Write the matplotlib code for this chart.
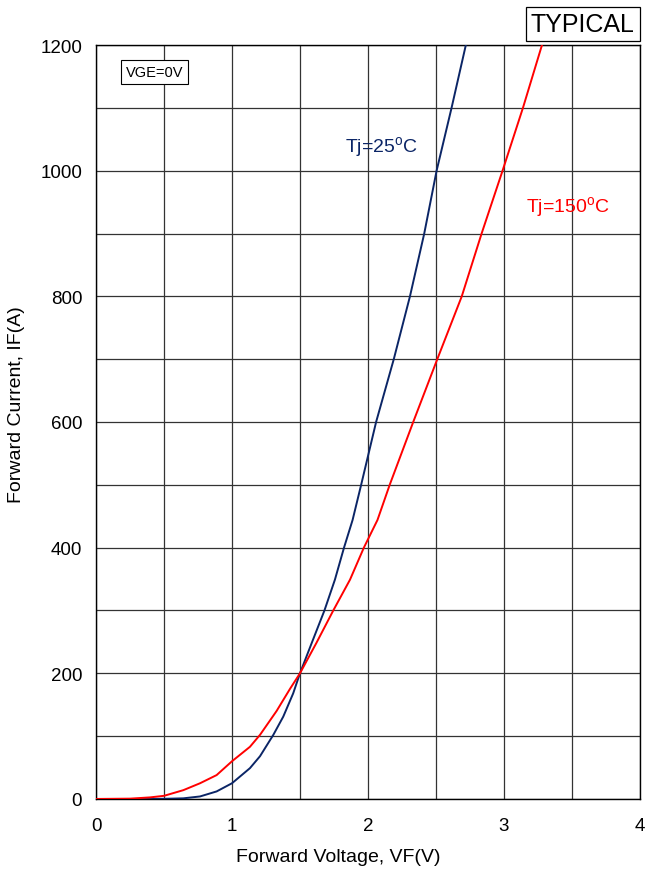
import numpy as np
import matplotlib.pyplot as plt
from matplotlib.ticker import MultipleLocator

plt.rcParams['font.family'] = ['Liberation Sans', 'DejaVu Sans']
plt.rcParams['mathtext.fontset'] = 'custom'
plt.rcParams['mathtext.rm'] = 'Liberation Sans'

# Прямая ВАХ диода, Tj = 25 °C
vf_25 = [0, 0.4, 0.55, 0.642, 0.765, 0.887, 1.0, 1.132, 1.206, 1.304, 1.377,
         1.45, 1.5, 1.586, 1.68, 1.757, 1.824, 1.887, 1.95, 2.06, 2.19, 2.309,
         2.414, 2.505, 2.615, 2.72]
if_25 = [0, 0, 0.5, 1, 4, 12, 25, 49, 68, 102, 131,
         168, 200, 248, 300, 349, 400, 444, 500, 600, 700, 800,
         900, 1000, 1100, 1200]

# Tj = 150 °C
vf_150 = [0, 0.25, 0.397, 0.5, 0.642, 0.765, 0.887, 1.0, 1.132, 1.206, 1.328,
          1.426, 1.5, 1.62, 1.745, 1.868, 1.97, 2.07, 2.16, 2.333, 2.51, 2.69,
          2.836, 2.99, 3.14, 3.28]
if_150 = [0, 0.5, 2.5, 5, 14, 25, 38, 60, 83, 102, 140,
          175, 200, 248, 300, 349, 400, 444, 500, 600, 700, 800,
          900, 1000, 1100, 1200]

fig = plt.figure(figsize=(6.47, 8.7), dpi=100)
ax = fig.add_axes([0.1484, 0.0805, 0.8406, 0.8666])

ax.plot(vf_25, if_25, color='#0b2566', lw=1.4, zorder=3)
ax.plot(vf_150, if_150, color='#ff0000', lw=1.4, zorder=3)

ax.set_xlim(0, 4)
ax.set_ylim(0, 1200)
ax.xaxis.set_major_locator(MultipleLocator(1))
ax.xaxis.set_minor_locator(MultipleLocator(0.5))
ax.yaxis.set_major_locator(MultipleLocator(200))
ax.yaxis.set_minor_locator(MultipleLocator(100))
ax.grid(which='both', color='#333333', lw=0.9)
ax.tick_params(which='both', length=0, labelsize=13.5)
ax.tick_params(axis='x', pad=13)
ax.tick_params(axis='y', pad=10)
for s in ax.spines.values():
    s.set_color('black')
    s.set_linewidth(1.0)

ax.set_xlabel('Forward Voltage, VF(V)', fontsize=14)
ax.set_ylabel('Forward Current, IF(A)', fontsize=14)
# подписи осей сдвинуты от центра
ax.xaxis.set_label_coords(0.445, -0.065)
ax.yaxis.set_label_coords(-0.1305, 0.524)

ax.text(1.83, 1038, r'Tj=25$^{\rm o}$C', color='#0b2566', fontsize=14,
        ha='left', va='center')
ax.text(3.16, 942, r'Tj=150$^{\rm o}$C', color='#ff0000', fontsize=14,
        ha='left', va='center')
ax.text(0.43, 1157, 'VGE=0V', fontsize=10.5, ha='center', va='center',
        bbox=dict(boxstyle='square,pad=0.35', fc='white', ec='black', lw=0.8))
fig.text(0.981, 0.971, 'TYPICAL', fontsize=18, ha='right', va='center',
         bbox=dict(boxstyle='square,pad=0.2', fc='white', ec='black', lw=0.9))

plt.savefig('out.png', dpi=100)
